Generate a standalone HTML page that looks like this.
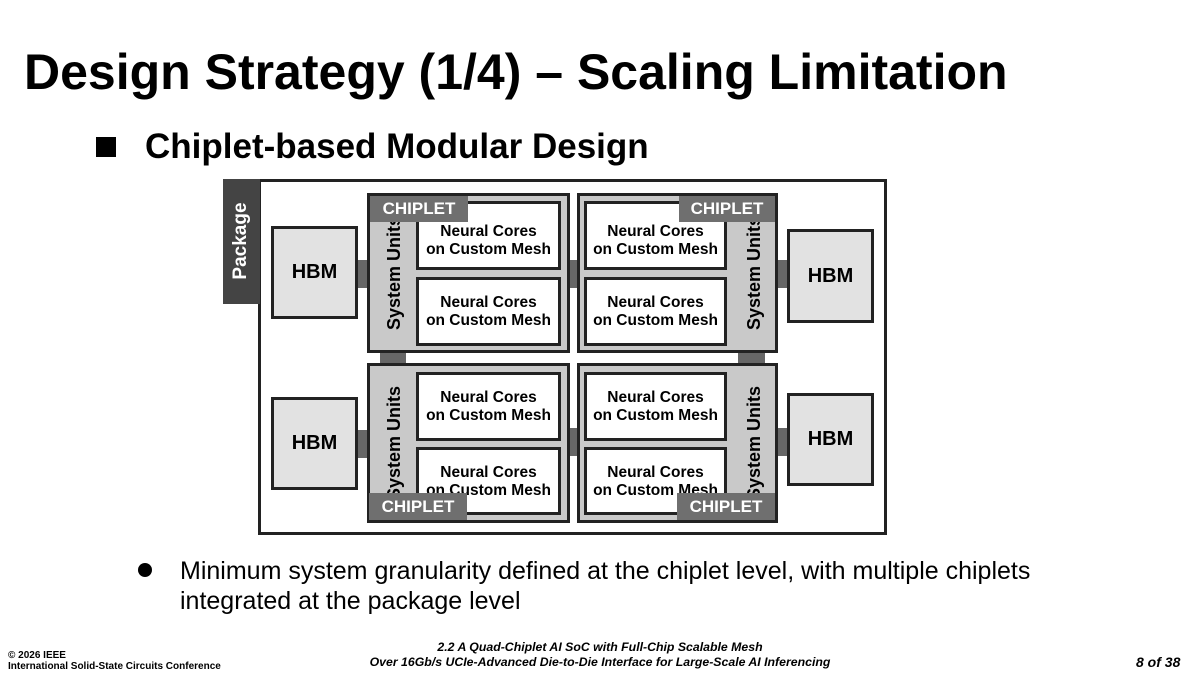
<!DOCTYPE html>
<html><head><meta charset="utf-8"><style>
body{margin:0;width:1200px;height:675px;background:#fff;position:relative;overflow:hidden;font-family:"Liberation Sans",Arial,sans-serif;color:#000}
div{position:absolute;box-sizing:border-box}
.t{white-space:nowrap}
.chip{border:3px solid #222;background:#c9c9c9}
.core{border:3px solid #222;background:#fff;font-weight:bold;font-size:15.5px;text-align:center;line-height:18px;display:flex;align-items:center;justify-content:center}
.hbm{border:3px solid #222;background:#e2e2e2;font-weight:bold;font-size:20px;display:flex;align-items:center;justify-content:center}
.lab{background:#6f6f6f;color:#fff;font-weight:bold;font-size:17px;display:flex;align-items:center;justify-content:center}
.bar{background:#666}
.su{font-weight:bold;font-size:18px;transform:rotate(-90deg);white-space:nowrap;text-align:center;width:130px;height:22px;line-height:22px}
</style></head><body>
<div class="t" style="left:24px;top:43px;font-size:50px;font-weight:bold;">Design Strategy (1/4) – Scaling Limitation</div>
<div style="left:96px;top:137px;width:20px;height:20px;background:#000"></div>
<div class="t" style="left:145px;top:127px;font-size:35px;font-weight:bold;">Chiplet-based Modular Design</div>

<div style="left:258px;top:179px;width:629px;height:356px;border:3px solid #222;background:#fff"></div>
<div style="left:223px;top:179px;width:37px;height:125px;background:#444"></div>
<div class="su" style="left:176px;top:230px;color:#fff;font-size:19px;width:130px">Package</div>

<div class="bar" style="left:355px;top:260px;width:14px;height:28px"></div>
<div class="bar" style="left:355px;top:430px;width:14px;height:28px"></div>
<div class="bar" style="left:775px;top:260px;width:14px;height:28px"></div>
<div class="bar" style="left:775px;top:428px;width:14px;height:28px"></div>
<div class="bar" style="left:567px;top:260px;width:12px;height:28px"></div>
<div class="bar" style="left:567px;top:428px;width:12px;height:28px"></div>
<div class="bar" style="left:380px;top:350px;width:26px;height:15px"></div>
<div class="bar" style="left:738px;top:350px;width:27px;height:15px"></div>

<div class="hbm" style="left:271px;top:226px;width:87px;height:93px">HBM</div>
<div class="hbm" style="left:271px;top:397px;width:87px;height:93px">HBM</div>
<div class="hbm" style="left:787px;top:229px;width:87px;height:94px">HBM</div>
<div class="hbm" style="left:787px;top:393px;width:87px;height:93px">HBM</div>

<div class="chip" style="left:367px;top:193px;width:203px;height:160px"></div>
<div class="su" style="left:329px;top:262px">System Units</div>
<div class="core" style="left:416px;top:201px;width:145px;height:69px;padding-top:10px">Neural Cores<br>on Custom Mesh</div>
<div class="core" style="left:416px;top:277px;width:145px;height:69px">Neural Cores<br>on Custom Mesh</div>
<div class="lab" style="left:370px;top:196px;width:98px;height:26px">CHIPLET</div>

<div class="chip" style="left:577px;top:193px;width:201px;height:160px"></div>
<div class="su" style="left:689px;top:262px">System Units</div>
<div class="core" style="left:584px;top:201px;width:143px;height:69px;padding-top:10px">Neural Cores<br>on Custom Mesh</div>
<div class="core" style="left:584px;top:277px;width:143px;height:69px">Neural Cores<br>on Custom Mesh</div>
<div class="lab" style="left:679px;top:196px;width:96px;height:26px">CHIPLET</div>

<div class="chip" style="left:367px;top:363px;width:203px;height:160px"></div>
<div class="su" style="left:329px;top:432px">System Units</div>
<div class="core" style="left:416px;top:372px;width:145px;height:69px">Neural Cores<br>on Custom Mesh</div>
<div class="core" style="left:416px;top:447px;width:145px;height:68px;align-items:flex-start;padding-top:14px">Neural Cores<br>on Custom Mesh</div>
<div class="lab" style="left:369px;top:493px;width:98px;height:27px">CHIPLET</div>

<div class="chip" style="left:577px;top:363px;width:201px;height:160px"></div>
<div class="su" style="left:689px;top:432px">System Units</div>
<div class="core" style="left:584px;top:372px;width:143px;height:69px">Neural Cores<br>on Custom Mesh</div>
<div class="core" style="left:584px;top:447px;width:143px;height:68px;align-items:flex-start;padding-top:14px">Neural Cores<br>on Custom Mesh</div>
<div class="lab" style="left:677px;top:493px;width:98px;height:27px">CHIPLET</div>

<div style="left:138px;top:563px;width:14px;height:14px;border-radius:50%;background:#000"></div>
<div class="t" style="left:180px;top:556px;font-size:25px;line-height:30px">Minimum system granularity defined at the chiplet level, with multiple chiplets<br>integrated at the package level</div>

<div class="t" style="left:8px;top:650px;font-size:10px;font-weight:bold;line-height:11px">© 2026 IEEE<br>International Solid-State Circuits Conference</div>
<div class="t" style="left:300px;top:640px;width:600px;text-align:center;font-size:12.3px;font-weight:bold;font-style:italic;line-height:15px">2.2 A Quad-Chiplet AI SoC with Full-Chip Scalable Mesh<br>Over 16Gb/s UCIe-Advanced Die-to-Die Interface for Large-Scale AI Inferencing</div>
<div class="t" style="left:1136px;top:654px;font-size:14px;font-weight:bold;font-style:italic">8 of 38</div>
</body></html>
